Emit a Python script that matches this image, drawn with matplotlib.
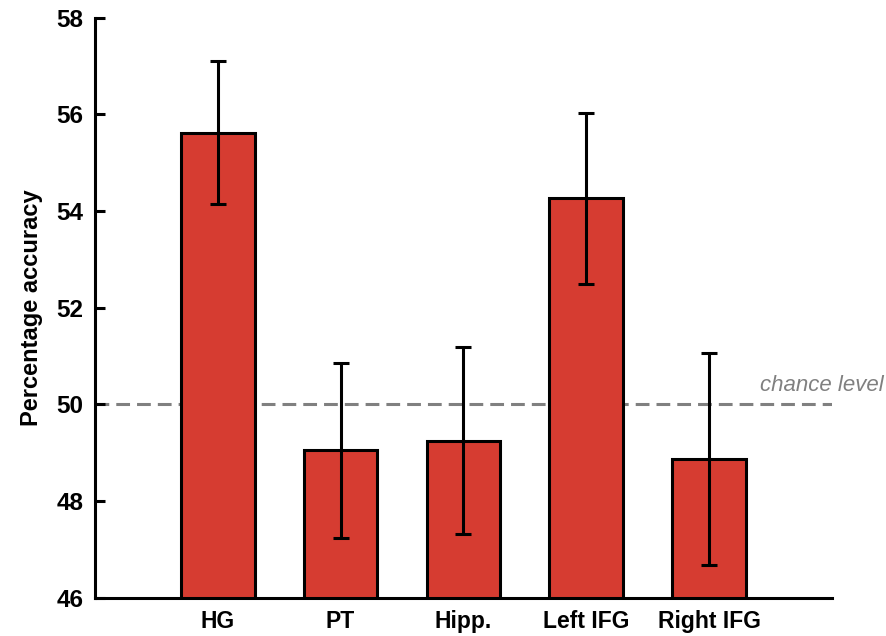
import matplotlib
matplotlib.use("Agg")
from matplotlib import pyplot as plt

# data
regions = ["HG", "PT", "Hipp.", "Left IFG", "Right IFG"]
accuracy = [55.62, 49.05, 49.25, 54.27, 48.87]
err = [1.48, 1.81, 1.93, 1.77, 2.2]
chance = 50
yticks = [46, 48, 50, 52, 54, 56, 58]

plt.rcParams['font.family'] = ['Liberation Sans', 'DejaVu Sans']

fig = plt.figure(figsize=(8.86, 6.36), dpi=100)
ax = fig.add_axes([0.107, 0.060, 0.832, 0.912])

x = list(range(len(regions)))
ax.axhline(chance, color='#808080', lw=2.2, ls=(0, (4.5, 2.3)), zorder=1)
ax.bar(x, accuracy, width=0.6, color='#D63C31', edgecolor='black', lw=2.2, zorder=2)
ax.errorbar(x, accuracy, yerr=err, fmt='none', ecolor='black', elinewidth=2.2,
            capsize=6, capthick=2.2, zorder=3)
ax.text(5.42, chance + 0.18, "chance level", color='#808080', fontsize=16,
        style='italic', ha='right', va='bottom', clip_on=False)

ax.set_xlim(-1, 5)
ax.set_ylim(46, 58)
ax.set_yticks(yticks)
ax.set_xticks(x)
ax.set_xticklabels(regions, fontsize=16.5, fontweight='bold')
ax.tick_params(axis='x', length=0, pad=9)
ax.tick_params(axis='y', direction='in', length=7, width=2.2, labelsize=17.5, pad=8)
for lab in ax.get_yticklabels():
    lab.set_fontweight('bold')
ax.set_ylabel("Percentage accuracy", fontsize=17, fontweight='bold', labelpad=10)

for s in ['top', 'right']:
    ax.spines[s].set_visible(False)
for s in ['left', 'bottom']:
    ax.spines[s].set_linewidth(2.2)

fig.savefig("out.png", dpi=100)
